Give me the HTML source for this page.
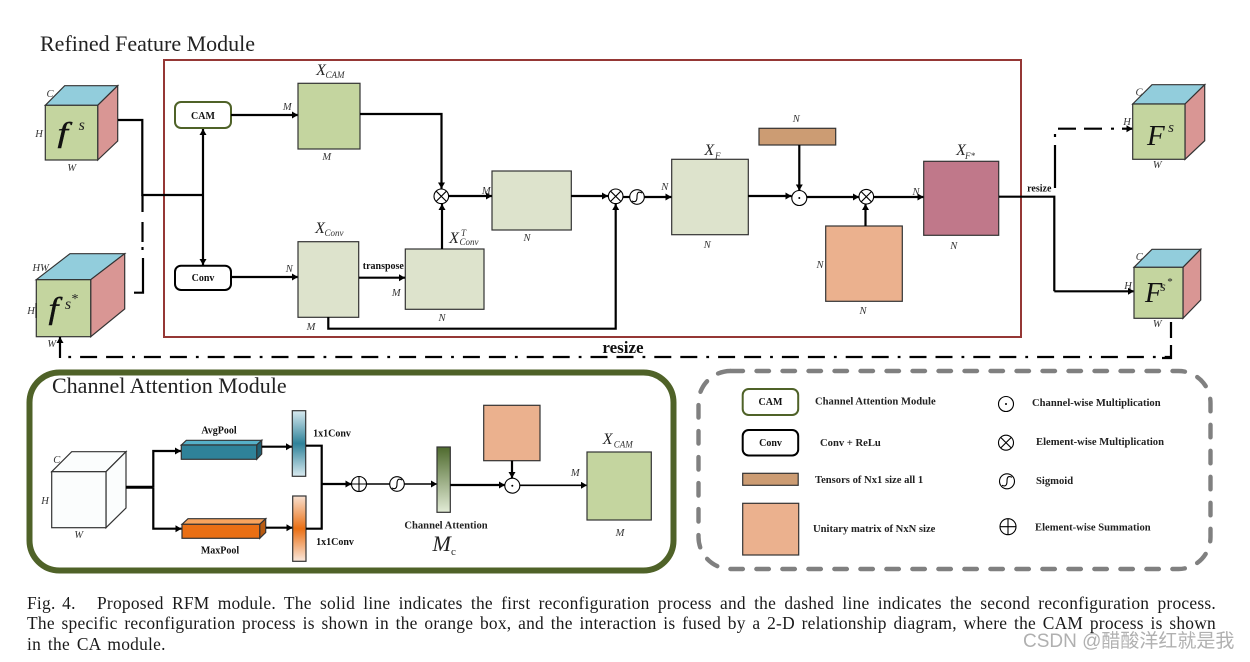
<!DOCTYPE html>
<html><head><meta charset="utf-8"><style>
html,body{margin:0;padding:0;background:#fff}
#w{position:relative;width:1250px;height:662px;overflow:hidden;background:#fff}
svg{position:absolute;left:0;top:0}
.c{position:absolute;font:17.4px/21px "Liberation Serif",serif;letter-spacing:.25px;color:#1a1a1a;text-align:justify;text-align-last:justify;white-space:normal}
.n{font:italic 10.5px "Liberation Serif",serif;fill:#333;text-anchor:middle}
.b{font:bold 10px "Liberation Serif",serif;fill:#111;text-anchor:middle}
.bl{font:bold 10.6px "Liberation Serif",serif;fill:#222}
.x{font:italic 16px "Liberation Serif",serif;fill:#222;text-anchor:middle}
.s{font:italic 9px "Liberation Serif",serif;fill:#333;text-anchor:middle}
.t{font:22px "Liberation Serif",serif;fill:#222}
.l{fill:none;stroke:#000;stroke-width:2.2}
.k{stroke:#333;stroke-width:1.2}
</style></head><body><div id="w">
<svg width="1250" height="662" viewBox="0 0 1250 662" xmlns="http://www.w3.org/2000/svg">
<defs>
<marker id="a" markerUnits="userSpaceOnUse" markerWidth="8" markerHeight="8" refX="6" refY="3.5" orient="auto"><path d="M0 0L6 3.5L0 7z" fill="#000"/></marker>
<linearGradient id="gb" x1="0" y1="0" x2="0" y2="1"><stop offset="0" stop-color="#d8eaf0"/><stop offset=".5" stop-color="#2f8299"/><stop offset="1" stop-color="#d8eaf0"/></linearGradient>
<linearGradient id="go" x1="0" y1="0" x2="0" y2="1"><stop offset="0" stop-color="#f8e0d0"/><stop offset=".5" stop-color="#ea6f14"/><stop offset="1" stop-color="#fae8dc"/></linearGradient>
<linearGradient id="gg" x1="0" y1="0" x2="0" y2="1"><stop offset="0" stop-color="#4f6a2e"/><stop offset="1" stop-color="#e2ecd6"/></linearGradient>
</defs>

<text class="t" x="40" y="51">Refined Feature Module</text>
<rect x="164" y="60" width="857" height="277" fill="none" stroke="#953735" stroke-width="2"/>

<!-- fs cube -->
<path d="M45.3 105.3L64.7 85.7H117.7L97.7 105.3z" fill="#92cddc" class="k"/>
<path d="M97.7 105.3L117.7 85.7V141L97.7 160z" fill="#d99694" class="k"/>
<rect x="45.3" y="105.3" width="52.4" height="54.7" fill="#c4d59f" class="k"/>
<text transform="translate(57.5,142) scale(1.3,1)" style="font:italic 29px 'Liberation Serif',serif" fill="#111" stroke="#111" stroke-width=".4">f</text>
<text x="81.7" y="130" style="font:italic 16px 'Liberation Serif',serif" fill="#222" text-anchor="middle">s</text>
<text class="n" x="50" y="97">C</text><text class="n" x="39" y="137">H</text><text class="n" x="71.7" y="171">W</text>

<!-- fs* cube -->
<path d="M36.3 279.7L70 253.7H124.7L90.7 279.7z" fill="#92cddc" class="k"/>
<path d="M90.7 279.7L124.7 253.7V309L90.7 336.7z" fill="#d99694" class="k"/>
<rect x="36.3" y="279.7" width="54.4" height="57" fill="#c4d59f" class="k"/>
<text transform="translate(48.5,318.6) scale(1.15,1)" style="font:italic 31px 'Liberation Serif',serif" fill="#111" stroke="#111" stroke-width=".4">f</text>
<text x="68" y="309" style="font:italic 16px 'Liberation Serif',serif" fill="#222" text-anchor="middle">s</text>
<text x="75" y="303" style="font:14px 'Liberation Serif',serif" fill="#222" text-anchor="middle">*</text>
<text class="n" x="40.7" y="271">HW</text><text class="n" x="31" y="314">H</text><text class="n" x="51.7" y="347">W</text>
<path d="M36 303V318" stroke="#000" stroke-width="1"/>

<!-- left connectors -->
<path class="l" d="M118 120H142.3V195H203"/>
<path class="l" marker-end="url(#a)" d="M203 195V129"/>
<path class="l" marker-end="url(#a)" d="M203 195V265"/>
<path class="l" d="M142.5 195V212M142.5 222V242M142.5 247V250M143 258V292.7H134"/>
<path class="l" d="M68.3 357H1171" stroke-dasharray="2.8 9 17 9 17 9"/>
<path class="l" d="M1171 322V338M1171 345V358H1162"/>
<path class="l" marker-end="url(#a)" d="M60 358V337"/>
<text x="623" y="353" style="font:bold 17px 'Liberation Serif',serif" fill="#111" text-anchor="middle">resize</text>

<!-- CAM / Conv -->
<rect x="175" y="102" width="56" height="26" rx="6" fill="#fff" stroke="#4f6228" stroke-width="2"/>
<text class="b" x="203" y="119">CAM</text>
<rect x="175" y="265.7" width="56" height="24.3" rx="6" fill="#fff" stroke="#000" stroke-width="2"/>
<text class="b" x="203" y="281">Conv</text>
<path class="l" marker-end="url(#a)" d="M231 115H298"/>
<path class="l" marker-end="url(#a)" d="M231 277H298"/>
<text class="n" x="287.3" y="110">M</text><text class="n" x="289.3" y="272">N</text>

<!-- boxes -->
<rect x="298" y="83.3" width="62" height="65.7" fill="#c4d59f" class="k"/>
<rect x="298" y="241.7" width="60.7" height="75.6" fill="#dde3cc" class="k"/>
<rect x="405.3" y="249" width="78.7" height="60.3" fill="#dde3cc" class="k"/>
<rect x="492" y="171" width="79.3" height="59" fill="#dde3cc" class="k"/>
<rect x="671.7" y="159.3" width="76.6" height="75.4" fill="#dde3cc" class="k"/>
<rect x="759" y="128.3" width="76.7" height="16.7" fill="#cc9c73" class="k"/>
<rect x="825.7" y="226" width="76.6" height="75.3" fill="#ebb18e" class="k"/>
<rect x="923.7" y="161.3" width="75" height="74" fill="#c0788a" class="k"/>

<!-- main connectors -->
<path class="l" marker-end="url(#a)" d="M360 114H441.5V188.5"/>
<path class="l" marker-end="url(#a)" d="M442 249V204"/>
<path class="l" marker-end="url(#a)" d="M449 196H492"/>
<path class="l" marker-end="url(#a)" d="M571 196H608"/>
<path class="l" marker-end="url(#a)" d="M328.3 317V328.7H615.7V204"/>
<path class="l" marker-end="url(#a)" d="M359 277.7H405"/>
<path class="l" d="M623 197H630"/>
<path class="l" marker-end="url(#a)" d="M644 197H671.5"/>
<path class="l" marker-end="url(#a)" d="M748 196H791.5"/>
<path class="l" marker-end="url(#a)" d="M799.3 145V190.5"/>
<path class="l" marker-end="url(#a)" d="M807 197H859"/>
<path class="l" marker-end="url(#a)" d="M865.5 226V204"/>
<path class="l" marker-end="url(#a)" d="M874 197H923.5"/>
<path class="l" d="M999 196.7H1054.3V291.3"/>
<path class="l" marker-end="url(#a)" d="M1054.3 291.3H1134"/>
<path class="l" d="M1055 188V145M1055 134V137M1058 128.7H1076M1084 128.7H1102M1111 128.7H1114"/>
<path class="l" marker-end="url(#a)" d="M1122 128.7H1132.5"/>

<!-- operators -->
<g fill="#fff" stroke="#000" stroke-width="1.1">
<circle cx="441.3" cy="196.3" r="7.3"/><path d="M436.2 191.2L446.4 201.4M446.4 191.2L436.2 201.4" fill="none"/>
<circle cx="615.7" cy="196.3" r="7.3"/><path d="M610.6 191.2L620.8 201.4M620.8 191.2L610.6 201.4" fill="none"/>
<circle cx="637" cy="197" r="7.3"/><path d="M632 201C636 203 637 200 637 197C637 193 638 191 642 193" fill="none"/>
<circle cx="799.3" cy="198" r="7.5"/>
<circle cx="866.3" cy="196.7" r="7.3"/><path d="M861.2 191.6L871.4 201.8M871.4 191.6L861.2 201.8" fill="none"/>
</g>
<circle cx="799.3" cy="198" r="1" fill="#000"/>

<!-- main labels -->
<text class="x" x="321" y="75">X</text><text class="s" x="335" y="78">CAM</text>
<text class="n" x="326.7" y="160">M</text>
<text class="x" x="320" y="233">X</text><text class="s" x="334" y="236">Conv</text>
<text class="n" x="311" y="330">M</text>
<text class="b" x="383.3" y="269">transpose</text>
<text class="n" x="396.3" y="296">M</text><text class="n" x="442" y="321">N</text>
<text class="x" x="454" y="243">X</text><text class="s" x="463.5" y="236">T</text><text class="s" x="469" y="245">Conv</text>
<text class="n" x="486.3" y="194">M</text><text class="n" x="527" y="241">N</text><text class="n" x="664.7" y="190">N</text>
<text class="x" x="709.3" y="155">X</text><text class="s" x="717.7" y="159">F</text>
<text class="n" x="707.3" y="248">N</text><text class="n" x="796.3" y="122">N</text>
<text class="n" x="916" y="195">N</text><text class="n" x="953.7" y="249">N</text>
<text class="n" x="820" y="268">N</text><text class="n" x="863" y="314">N</text>
<text class="x" x="961" y="155">X</text><text class="s" x="970" y="159">F*</text>
<text class="b" x="1039.3" y="191.5">resize</text>

<!-- Fs cube -->
<path d="M1132.7 104L1152 84.7H1204.7L1185 104z" fill="#92cddc" class="k"/>
<path d="M1185 104L1204.7 84.7V140.7L1185 159.3z" fill="#d99694" class="k"/>
<rect x="1132.7" y="104" width="52.3" height="55.3" fill="#c4d59f" class="k"/>
<text x="1147" y="145" style="font:italic 29px 'Liberation Serif',serif" fill="#111">F</text>
<text x="1171" y="132" style="font:italic 15px 'Liberation Serif',serif" fill="#222" text-anchor="middle">s</text>
<text class="n" x="1139" y="95.5">C</text><text class="n" x="1127" y="125">H</text><text class="n" x="1157.3" y="168">W</text>

<!-- Fs* cube -->
<path d="M1134 267.3L1152 249.3H1200.7L1183 267.3z" fill="#92cddc" class="k"/>
<path d="M1183 267.3L1200.7 249.3V300L1183 318.3z" fill="#d99694" class="k"/>
<rect x="1134" y="267.3" width="49" height="51" fill="#c4d59f" class="k"/>
<text x="1145" y="302" style="font:italic 28px 'Liberation Serif',serif" fill="#111">F</text>
<text x="1163" y="291" style="font:italic 14px 'Liberation Serif',serif" fill="#222" text-anchor="middle">s</text>
<text x="1170" y="285" style="font:11px 'Liberation Serif',serif" fill="#222" text-anchor="middle">*</text>
<text class="n" x="1139.3" y="260">C</text><text class="n" x="1128" y="289">H</text><text class="n" x="1157.3" y="327">W</text>

<!-- Channel Attention Module -->
<rect x="29.5" y="372.5" width="644" height="198" rx="30" fill="#fff" stroke="#4f6228" stroke-width="6"/>
<text class="t" x="52" y="393">Channel Attention Module</text>

<path d="M51.7 471.7L71.7 451.7H126L106 471.7z" fill="#fbfdfd" class="k"/>
<path d="M106 471.7L126 451.7V508L106 527.7z" fill="#fbfdfd" class="k"/>
<rect x="51.7" y="471.7" width="54.3" height="56" fill="#fbfdfd" class="k"/>
<text class="n" x="56.7" y="463">C</text><text class="n" x="45" y="504">H</text><text class="n" x="78.7" y="538">W</text>

<path d="M126 487.3H153.3" fill="none" stroke="#000" stroke-width="3"/>
<path class="l" marker-end="url(#a)" d="M153.3 487.3V451H181"/>
<path class="l" marker-end="url(#a)" d="M153.3 487.3V528.7H181.5"/>

<path d="M181.3 445L186.3 440.3H261.7L256.7 445z" fill="#56b0c8" class="k"/>
<path d="M256.7 445L261.7 440.3V454L256.7 459.3z" fill="#205f72" class="k"/>
<rect x="181.3" y="445" width="75.4" height="14.3" fill="#2f8299" class="k"/>
<path d="M182 524.3L188 518.7H265.7L259.7 524.3z" fill="#f8a35c" class="k"/>
<path d="M259.7 524.3L265.7 518.7V532.5L259.7 538.3z" fill="#b85a10" class="k"/>
<rect x="182" y="524.3" width="77.7" height="14" fill="#ea6f14" class="k"/>
<text class="b" x="219" y="433.5">AvgPool</text><text class="b" x="220" y="553.5">MaxPool</text>

<path class="l" marker-end="url(#a)" d="M261.7 446.7H292"/>
<path class="l" marker-end="url(#a)" d="M266 527.7H292.5"/>
<rect x="292.3" y="410.7" width="13.4" height="65.6" fill="url(#gb)" class="k"/>
<rect x="292.7" y="496" width="13.3" height="65.3" fill="url(#go)" class="k"/>
<text class="b" x="332" y="436.5">1x1Conv</text><text class="b" x="335" y="545">1x1Conv</text>
<path class="l" d="M306 445.7H321.7V528.7H306"/>
<path class="l" marker-end="url(#a)" d="M321.7 484H351.5"/>
<path d="M366.5 484H389.5" stroke="#000" stroke-width="1.5"/>
<path d="M404.5 484H437" stroke="#000" stroke-width="1.5" marker-end="url(#a)"/>
<rect x="437" y="447" width="13.3" height="65.3" fill="url(#gg)" class="k"/>
<path class="l" marker-end="url(#a)" d="M450.3 485H505"/>
<rect x="483.7" y="405.3" width="56.3" height="55.4" fill="#ebb18e" class="k"/>
<path class="l" marker-end="url(#a)" d="M512 460.7V478"/>
<path d="M520 485.3H587" stroke="#000" stroke-width="1.6" marker-end="url(#a)"/>
<rect x="587" y="452" width="64.3" height="68" fill="#c4d59f" class="k"/>
<g fill="#fff" stroke="#000" stroke-width="1.1">
<circle cx="359" cy="484" r="7.5"/><path d="M351.5 484H366.5M359 476.5V491.5" fill="none"/>
<circle cx="397" cy="484" r="7.3"/><path d="M392 488C396 490 397 487 397 484C397 480 398 478 402 480" fill="none"/>
<circle cx="512.3" cy="485.7" r="7.5"/>
</g>
<circle cx="512.3" cy="485.7" r="1" fill="#000"/>
<text class="bl" x="446" y="528.5" text-anchor="middle">Channel Attention</text>
<text x="441.7" y="551" style="font:italic 22px 'Liberation Serif',serif" fill="#222" text-anchor="middle">M</text>
<text x="453.5" y="555" style="font:11px 'Liberation Serif',serif" fill="#222" text-anchor="middle">c</text>
<text class="n" x="575.3" y="476">M</text><text class="n" x="620" y="536">M</text>
<text class="x" x="607.7" y="444">X</text><text class="s" x="623.3" y="447.5">CAM</text>

<!-- Legend -->
<rect x="698.5" y="371" width="512" height="198" rx="32" fill="none" stroke="#808080" stroke-width="4.4" stroke-dasharray="12.5 13.5" stroke-linecap="round"/>
<rect x="742.7" y="389" width="55.5" height="26" rx="6" fill="#fff" stroke="#4f6228" stroke-width="2"/>
<text class="b" x="770.5" y="405">CAM</text>
<rect x="742.7" y="430" width="55.5" height="25.5" rx="6" fill="#fff" stroke="#000" stroke-width="2"/>
<text class="b" x="770.5" y="446">Conv</text>
<rect x="742.7" y="473.3" width="55.5" height="12" fill="#cc9c73" class="k"/>
<rect x="742.7" y="503.3" width="56" height="51.7" fill="#ebb18e" class="k"/>
<text class="bl" x="815" y="404.5">Channel Attention Module</text>
<text class="bl" x="820" y="446">Conv + ReLu</text>
<text class="bl" x="815" y="483">Tensors of Nx1 size all 1</text>
<text class="bl" x="813" y="532">Unitary matrix of NxN size</text>
<text class="bl" x="1032" y="406">Channel-wise Multiplication</text>
<text class="bl" x="1036" y="445">Element-wise Multiplication</text>
<text class="bl" x="1036" y="484">Sigmoid</text>
<text class="bl" x="1035" y="530.5">Element-wise Summation</text>
<g fill="#fff" stroke="#000" stroke-width="1.1">
<circle cx="1006" cy="404" r="7.5"/>
<circle cx="1006" cy="442.7" r="7.5"/><path d="M1000.7 437.4L1011.3 448M1011.3 437.4L1000.7 448" fill="none"/>
<circle cx="1007" cy="481.3" r="7.5"/><path d="M1002 485.3C1006 487.3 1007 484.3 1007 481.3C1007 477.3 1008 475.3 1012 477.3" fill="none"/>
<circle cx="1008" cy="526.7" r="8"/><path d="M1000 526.7H1016M1008 518.7V534.7" fill="none"/>
</g>
<circle cx="1006" cy="404" r="1" fill="#000"/>
</svg>

<div class="c" style="left:27px;top:593px;width:60px;text-align-last:left;word-spacing:2px">Fig. 4.</div>
<div class="c" style="left:97px;top:593px;width:1119px">Proposed RFM module. The solid line indicates the first reconfiguration process and the dashed line indicates the second reconfiguration process.</div>
<div class="c" style="left:27px;top:613px;width:1189px">The specific reconfiguration process is shown in the orange box, and the interaction is fused by a 2-D relationship diagram, where the CAM process is shown</div>
<div class="c" style="left:27px;top:634px;width:400px;text-align-last:left;word-spacing:2.3px">in the CA module.</div>
<div style="position:absolute;left:1023px;top:630px;font:19px/24px 'Liberation Sans','Noto Sans CJK SC',sans-serif;color:#b0b0b0;white-space:nowrap">CSDN @醋酸洋红就是我</div>
</div></body></html>
